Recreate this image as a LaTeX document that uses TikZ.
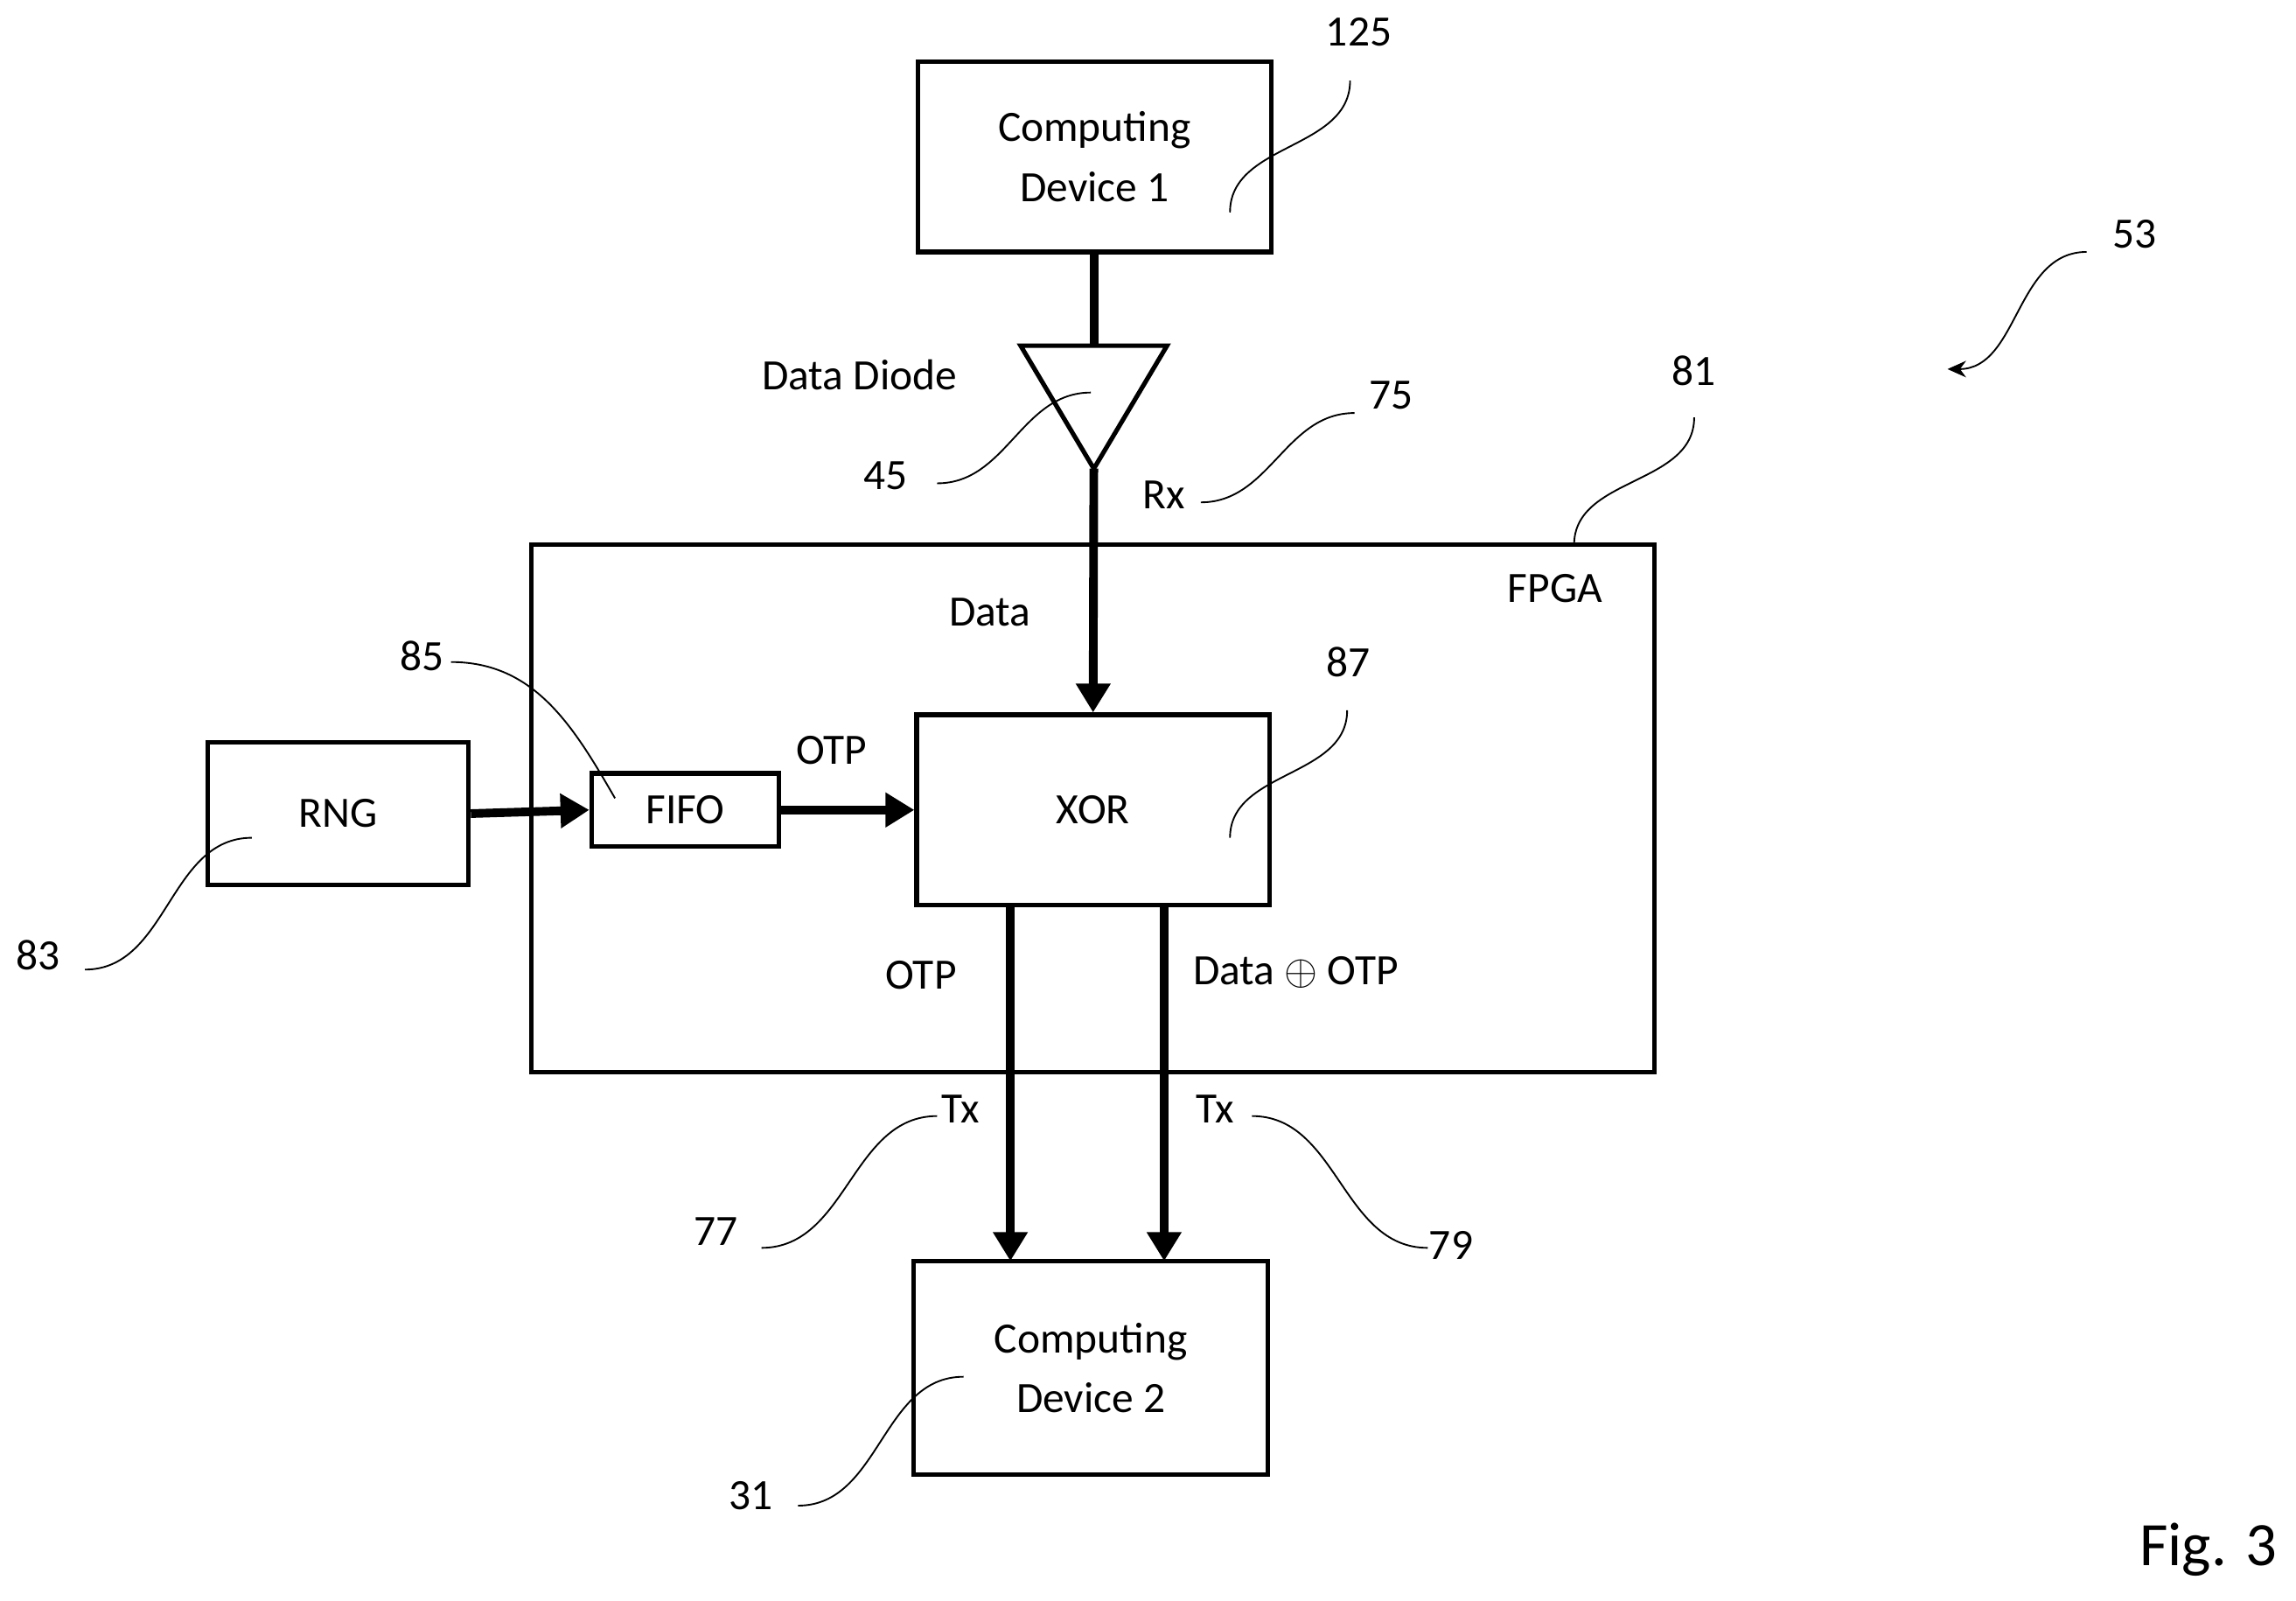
\documentclass[tikz,border=0pt]{standalone}
\usepackage{fontspec}
\setmainfont{Carlito}
\usetikzlibrary{arrows.meta}
\begin{document}
\begin{tikzpicture}[x=0.025cm,y=-0.025cm,
  box/.style={draw,line width=2.2pt},
  bus/.style={line width=4.2pt},
  arr/.style={bus,-{Triangle[length=14pt,width=16pt]}},
  lead/.style={line width=0.8pt},
  lab/.style={font=\fontsize{21}{25}\selectfont,inner sep=0pt}]
\useasboundingbox (0,0) rectangle (1568,1093);
\node[box,minimum width=241*0.025cm,minimum height=130*0.025cm,align=center,lab] (cd1) at (747.5,107) {Computing\\[4pt]Device 1};
\node[box,minimum width=242*0.025cm,minimum height=146*0.025cm,align=center,lab] (cd2) at (745,934) {Computing\\[4pt]Device 2};
\node[box,minimum width=767*0.025cm,minimum height=360*0.025cm] (fpga) at (746.5,552) {};
\node[box,minimum width=241*0.025cm,minimum height=130*0.025cm,lab] (xor) at (746.5,553) {XOR};
\node[box,minimum width=178*0.025cm,minimum height=97*0.025cm,lab] (rng) at (231,555.5) {RNG};
\node[box,minimum width=128*0.025cm,minimum height=50*0.025cm,lab] (fifo) at (468,553) {FIFO};
\coordinate (tl) at (697,236); \coordinate (tr) at (797,236); \coordinate (ap) at (747,320);
\draw[line width=2.2pt,line join=miter] (tl)--(tr)--(ap)--cycle;
\draw[bus] (cd1.south) -- (747.5,236);
\draw[arr] (ap) -- (xor.north);
\draw[arr] (rng.east) -- (fifo.west);
\draw[arr] (fifo.east) -- (xor.west);
\draw[arr] (690,618) -- (690,861);
\draw[arr] (795,618) -- (795,861);
% labels
\node[lab] at (587,256) {Data Diode};
\node[lab] at (605,325) {45};
\node[lab] at (950,270) {75};
\node[lab] at (795,338) {Rx};
\node[lab] at (1157,253) {81};
\node[lab] at (1062,402) {FPGA};
\node[lab] at (676,418) {Data};
\node[lab] at (921,452) {87};
\node[lab] at (288,448) {85};
\node[lab] at (568,512) {OTP};
\node[lab] at (26,652) {83};
\node[lab] at (629,666) {OTP};
\node[lab] at (885,664) {Data $\oplus$ OTP};
\node[lab] at (656,757) {Tx};
\node[lab] at (489,841) {77};
\node[lab] at (830,757) {Tx};
\node[lab] at (991,850) {79};
\node[lab] at (513,1021) {31};
\node[lab] at (928,22) {125};
\node[lab] at (1458,160) {53};
\node[lab,font=\fontsize{30}{34}\selectfont] at (1508,1058) {Fig. 3};
% leaders
\draw[lead] (640,330) to[out=0,in=180] (745,268);
\draw[lead] (820,343) to[out=0,in=180] (925,282);
\draw[lead] (1075,372) to[out=90,in=-90] (1157,285);
\draw[lead] (840,572) to[out=90,in=-90] (920,485);
\draw[lead] (308,452) to[out=0,in=120] (420,545);
\draw[lead] (58,662) to[out=0,in=180] (172,572);
\draw[lead] (520,852) to[out=0,in=180] (640,762);
\draw[lead] (855,762) to[out=0,in=180] (975,852);
\draw[lead] (545,1028) to[out=0,in=180] (658,940);
\draw[lead] (840,145) to[out=90,in=-90] (922,55);
\draw[lead,-{Stealth[length=9pt,width=8pt]}] (1425,172) to[out=180,in=0] (1330,252);
\end{tikzpicture}
\end{document}
